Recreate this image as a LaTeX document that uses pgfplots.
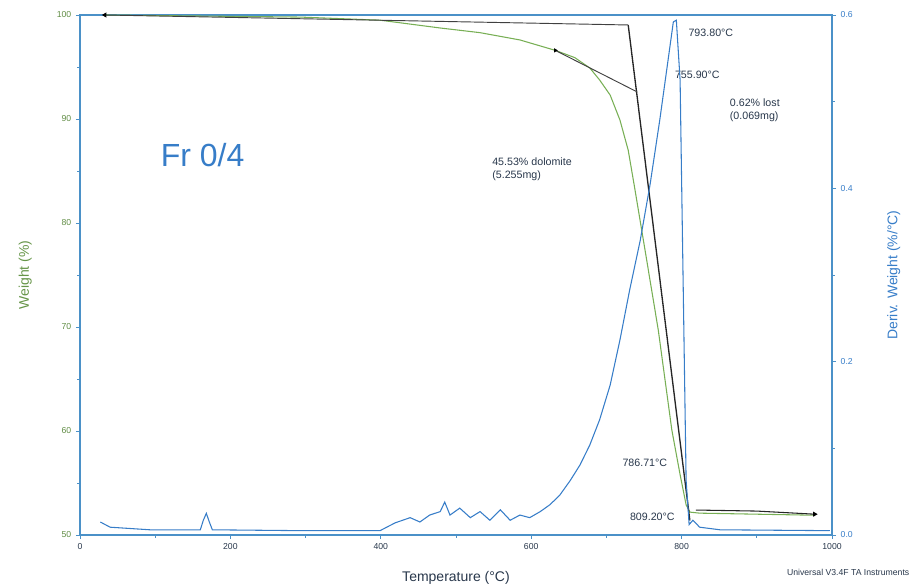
\documentclass[border=0pt]{standalone}
\usepackage{pgfplots}
\pgfplotsset{compat=1.18}
\usepackage{fontspec}
\setmainfont{Liberation Sans}
\definecolor{wgreen}{RGB}{120,175,85}
\definecolor{dblue}{RGB}{55,125,200}
\definecolor{axblue}{RGB}{75,145,200}
\definecolor{txtdark}{RGB}{40,55,75}

\pgfplotstableread{
T W
33 100.0
160 99.9
293 99.8
399 99.5
479 98.75
532 98.3
585 97.6
632 96.6
658 95.9
678 94.9
691 93.75
705 92.3
718 89.9
729 87.0
738 83.2
747 79.3
758 74.5
769 69.7
778 64.9
787 60.1
798 55.8
806 52.9
811 52.2
824 52.1
900 52.0
977 51.9
}\weighttab

\pgfplotstableread{
T D
27 0.015
40 0.009
93 0.006
160 0.006
164 0.017
168 0.025
172 0.015
176 0.006
293 0.005
399 0.005
419 0.014
439 0.020
452 0.015
465 0.023
479 0.027
485 0.038
492 0.023
505 0.031
519 0.020
532 0.027
545 0.017
559 0.029
572 0.017
585 0.023
598 0.020
612 0.027
625 0.035
638 0.046
652 0.063
665 0.081
678 0.104
691 0.133
705 0.173
718 0.225
731 0.283
745 0.340
758 0.404
771 0.479
782 0.548
789 0.592
793 0.594
798 0.525
802 0.294
806 0.063
810 0.012
815 0.017
824 0.009
851 0.006
997 0.005
}\derivtab

\begin{document}
\begin{tikzpicture}
\path[use as bounding box] (-60pt,-36.75pt) rectangle (625.5pt,401.25pt);
\begin{axis}[
  at={(0,0)}, anchor=south west, scale only axis,
  width=564pt, height=390pt,
  xmin=0, xmax=1000, ymin=50, ymax=100,
  xtick={0,200,...,1000}, minor x tick num=1,
  ytick={50,60,...,100}, minor y tick num=1,
  xtick pos=bottom, ytick pos=left,
  tick align=outside,
  major tick length=3pt, minor tick length=2pt,
  axis line style={axblue, line width=0.9pt},
  every tick/.style={axblue, line width=0.6pt},
  tick label style={font=\fontsize{6.5}{7}\selectfont, text=txtdark},
  yticklabel style={text=wgreen!80!black},
  /pgf/number format/assume math mode=true,
  /pgf/number format/1000 sep={},
  xlabel={Temperature (°C)},
  ylabel={Weight (\%)},
  xlabel style={font=\fontsize{10.5}{12}\selectfont, text=txtdark, yshift=-9pt},
  ylabel style={font=\fontsize{10.5}{12}\selectfont, text=wgreen!85!black, yshift=12pt},
  clip=false,
]
\addplot[wgreen, line width=0.8pt, mark=triangle*, mark indices={1}, mark options={black, rotate=90, scale=0.7}] table[x=T, y=W] {\weighttab};
% analysis construction lines
\addplot[black!75, line width=0.7pt] coordinates {(33,100.0) (729,99.04)};
\addplot[black!85, line width=1pt] coordinates {(729,99.04) (811,51.4)};
\addplot[black!75, line width=0.7pt, mark=triangle*, mark indices={1}, mark options={black, rotate=150, scale=0.6}] coordinates {(632,96.6) (741,92.6)};
\addplot[black!85, line width=0.8pt, mark=triangle*, mark indices={3}, mark options={black, rotate=-90, scale=0.7}] coordinates {(819,52.4) (900,52.3) (977,52.0)};

\node[font=\fontsize{24}{28}\selectfont, text=dblue] at (rel axis cs:0.163,0.73) {Fr 0/4};
\node[font=\fontsize{8}{9.5}\selectfont, text=txtdark, anchor=west] at (rel axis cs:0.803,0.965) {793.80°C};
\node[font=\fontsize{8}{9.5}\selectfont, text=txtdark, anchor=west] at (rel axis cs:0.785,0.885) {755.90°C};
\node[font=\fontsize{8}{9.5}\selectfont, text=txtdark, anchor=west, align=left] at (rel axis cs:0.858,0.817) {0.62\% lost\\(0.069mg)};
\node[font=\fontsize{8}{9.5}\selectfont, text=txtdark, anchor=west, align=left] at (rel axis cs:0.542,0.704) {45.53\% dolomite\\(5.255mg)};
\node[font=\fontsize{8}{9.5}\selectfont, text=txtdark, anchor=east] at (rel axis cs:0.787,0.138) {786.71°C};
\node[font=\fontsize{8}{9.5}\selectfont, text=txtdark, anchor=east] at (rel axis cs:0.797,0.035) {809.20°C};
\node[font=\fontsize{6.5}{7}\selectfont, text=txtdark, anchor=east] at (rel axis cs:1.109,-0.071) {Universal V3.4F TA Instruments};
\end{axis}

\begin{axis}[
  at={(0,0)}, anchor=south west, scale only axis,
  width=564pt, height=390pt,
  xmin=0, xmax=1000, ymin=0, ymax=0.6,
  axis y line*=right, hide x axis,
  ytick={0,0.2,0.4,0.6}, minor y tick num=1,
  tick align=outside,
  major tick length=3pt, minor tick length=2pt,
  axis line style={axblue, line width=0.9pt},
  every tick/.style={axblue, line width=0.6pt},
  tick label style={font=\fontsize{6.5}{7}\selectfont, text=dblue},
  /pgf/number format/assume math mode=true,
  /pgf/number format/fixed, /pgf/number format/fixed zerofill,
  /pgf/number format/precision=1,
  ylabel={Deriv. Weight (\%/°C)},
  ylabel style={font=\fontsize{10.5}{12}\selectfont, text=dblue, yshift=-19pt},
]
\addplot[dblue, line width=0.8pt] table[x=T, y=D] {\derivtab};
\end{axis}
\end{tikzpicture}
\end{document}
